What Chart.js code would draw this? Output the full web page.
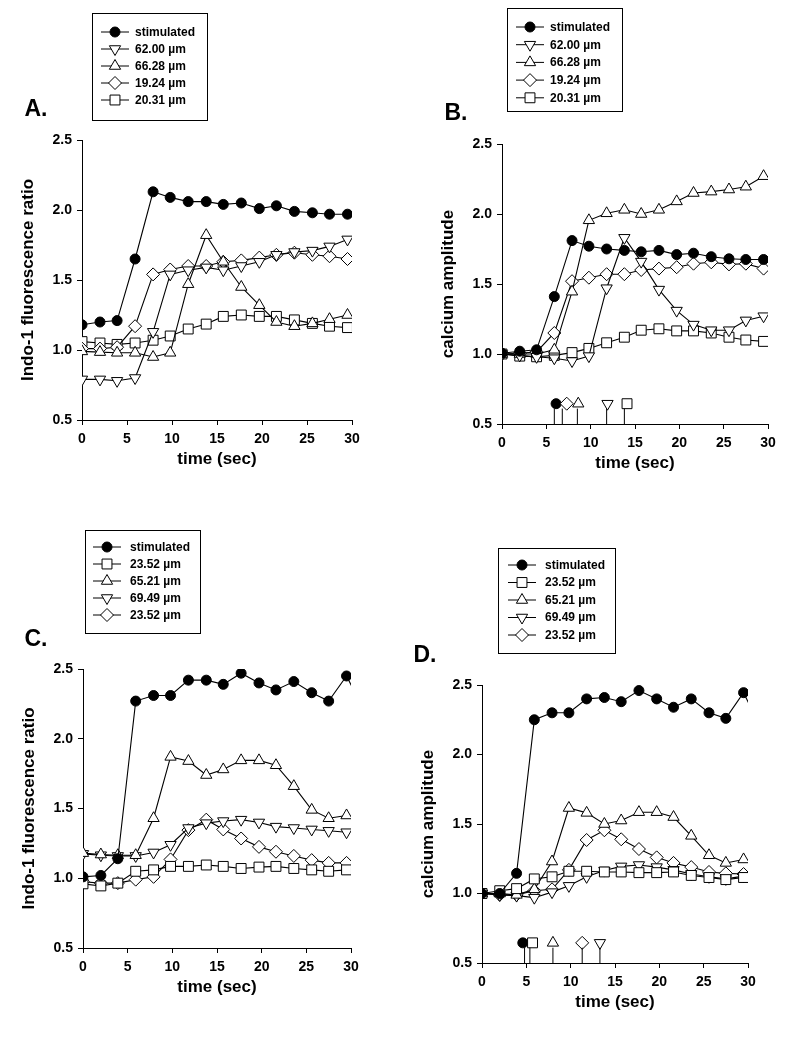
<!DOCTYPE html>
<html>
<head>
<meta charset="utf-8">
<script src="https://cdn.jsdelivr.net/npm/chart.js@4.4.0/dist/chart.umd.min.js"></script>
<style>
  html, body { margin: 0; padding: 0; background: #fff; }
  #page { position: relative; width: 800px; height: 1038px; overflow: hidden; }
  #page canvas { position: absolute; left: 0; top: 0; }
  .tag { position: absolute; font: bold 23px "Liberation Sans", Arial, sans-serif; color: #000; transform: translate(-50%, -50%); }
</style>
</head>
<body>
<div id="page">
  <canvas id="chartA" width="800" height="1038"></canvas>
  <canvas id="chartB" width="800" height="1038"></canvas>
  <canvas id="chartC" width="800" height="1038"></canvas>
  <canvas id="chartD" width="800" height="1038"></canvas>
  <div class="tag" style="left:36px;top:108px">A.</div>
  <div class="tag" style="left:456px;top:112px">B.</div>
  <div class="tag" style="left:36px;top:638px">C.</div>
  <div class="tag" style="left:425px;top:654px">D.</div>
</div>
<script>
// sample times (sec), shared by all four panels (last one lies past the axis end)
const timeSec = [0, 2, 3.9, 5.9, 7.9, 9.8, 11.8, 13.8, 15.7, 17.7, 19.7, 21.6, 23.6, 25.6, 27.5, 29.5, 31.5];
const xTicks = [0, 5, 10, 15, 20, 25, 30];
const yTicks = [0.5, 1.0, 1.5, 2.0, 2.5];

// top row (A, B) legend labels
const labelsAB = ["stimulated", "62.00 \u00b5m", "66.28 \u00b5m", "19.24 \u00b5m", "20.31 \u00b5m"];
// bottom row (C, D) legend labels
const labelsCD = ["stimulated", "23.52 \u00b5m", "65.21 \u00b5m", "69.49 \u00b5m", "23.52 \u00b5m"];

// A. Indo-1 fluorescence ratio
const aStim  = [1.18, 1.20, 1.21, 1.65, 2.13, 2.09, 2.06, 2.06, 2.04, 2.05, 2.01, 2.03, 1.99, 1.98, 1.97, 1.97];
const a6200  = [0.79, 0.79, 0.78, 0.80, 1.13, 1.54, 1.57, 1.59, 1.57, 1.60, 1.63, 1.68, 1.70, 1.71, 1.74, 1.79];
const a6628  = [0.99, 0.985, 0.98, 0.98, 0.95, 0.98, 1.47, 1.82, 1.63, 1.45, 1.32, 1.20, 1.17, 1.19, 1.22, 1.25];
const a1924  = [1.01, 1.01, 1.02, 1.17, 1.54, 1.575, 1.60, 1.60, 1.63, 1.64, 1.66, 1.68, 1.695, 1.68, 1.67, 1.65];
const a2031  = [1.06, 1.05, 1.04, 1.05, 1.07, 1.10, 1.15, 1.185, 1.24, 1.25, 1.24, 1.24, 1.215, 1.19, 1.17, 1.16];

// B. calcium amplitude
const bStim  = [1.005, 1.02, 1.03, 1.41, 1.81, 1.77, 1.75, 1.74, 1.73, 1.74, 1.71, 1.72, 1.695, 1.68, 1.675, 1.675];
const b6200  = [1.0, 0.99, 0.98, 0.97, 0.95, 0.985, 1.47, 1.83, 1.66, 1.46, 1.31, 1.21, 1.17, 1.17, 1.24, 1.27];
const b6628  = [1.0, 1.0, 1.0, 1.03, 1.445, 1.955, 2.005, 2.03, 2.0, 2.03, 2.09, 2.15, 2.16, 2.175, 2.195, 2.27];
const b1924  = [1.0, 1.005, 1.015, 1.15, 1.52, 1.545, 1.57, 1.57, 1.60, 1.61, 1.62, 1.645, 1.655, 1.64, 1.645, 1.61];
const b2031  = [1.0, 0.985, 0.98, 0.99, 1.01, 1.04, 1.08, 1.12, 1.17, 1.18, 1.165, 1.165, 1.15, 1.12, 1.10, 1.09];
// onset marks under B: which series, tick time, symbol time, symbol level
const onsetSeriesB = [0, 3, 2, 1, 4];
const onsetLineB   = [5.9, 6.8, 8.5, 11.8, 13.8];
const onsetMarkB   = [6.1, 7.3, 8.6, 11.9, 14.1];
const onsetLevelB  = 0.645;

// C. Indo-1 fluorescence ratio
const cStim  = [1.01, 1.02, 1.14, 2.27, 2.31, 2.31, 2.42, 2.42, 2.39, 2.47, 2.40, 2.35, 2.41, 2.33, 2.27, 2.45, 2.2];
const c2352a = [0.96, 0.945, 0.965, 1.05, 1.06, 1.085, 1.085, 1.095, 1.085, 1.07, 1.08, 1.085, 1.07, 1.06, 1.05, 1.06];
const c6521  = [1.18, 1.17, 1.165, 1.165, 1.43, 1.87, 1.84, 1.74, 1.78, 1.845, 1.845, 1.81, 1.66, 1.49, 1.43, 1.45];
const c6949  = [1.175, 1.165, 1.16, 1.16, 1.185, 1.24, 1.36, 1.395, 1.41, 1.42, 1.40, 1.37, 1.36, 1.35, 1.34, 1.33];
const c2352b = [0.975, 0.965, 0.965, 0.99, 1.01, 1.135, 1.345, 1.42, 1.35, 1.285, 1.225, 1.19, 1.16, 1.13, 1.11, 1.11];

// D. calcium amplitude
const dStim  = [1.0, 1.0, 1.145, 2.25, 2.30, 2.30, 2.40, 2.41, 2.38, 2.46, 2.40, 2.34, 2.40, 2.30, 2.26, 2.445, 2.18];
const d2352a = [1.0, 1.02, 1.035, 1.105, 1.12, 1.16, 1.16, 1.155, 1.155, 1.15, 1.15, 1.155, 1.13, 1.115, 1.10, 1.115];
const d6521  = [1.0, 1.0, 0.99, 1.03, 1.23, 1.615, 1.58, 1.50, 1.525, 1.585, 1.585, 1.55, 1.415, 1.275, 1.22, 1.245];
const d6949  = [1.0, 0.99, 0.985, 0.97, 1.01, 1.055, 1.12, 1.165, 1.195, 1.205, 1.19, 1.17, 1.14, 1.12, 1.105, 1.125];
const d2352b = [1.0, 0.99, 0.99, 1.02, 1.03, 1.17, 1.385, 1.455, 1.39, 1.32, 1.26, 1.22, 1.19, 1.155, 1.145, 1.14];
const onsetSeriesD = [0, 1, 2, 4, 3];
const onsetLineD   = [4.8, 5.4, 8.0, 11.3, 13.3];
const onsetMarkD   = [4.6, 5.7, 8.0, 11.3, 13.3];
const onsetLevelD  = 0.645;

Chart.defaults.font.family = '"Liberation Sans", Arial, Helvetica, sans-serif';
Chart.defaults.color = "#000";

const markerStyles = {
    dot:     { pointStyle: "circle",   pointRadius: 5,   pointRotation: 0,   pointBackgroundColor: "#000" },
    down:    { pointStyle: "triangle", pointRadius: 6.5, pointRotation: 180, pointBackgroundColor: "#fff" },
    up:      { pointStyle: "triangle", pointRadius: 6.5, pointRotation: 0,   pointBackgroundColor: "#fff" },
    diamond: { pointStyle: "rectRot",  pointRadius: 6.5, pointRotation: 0,   pointBackgroundColor: "#fff" },
    square:  { pointStyle: "rect",     pointRadius: 7,   pointRotation: 0,   pointBackgroundColor: "#fff" }
};
const kindsAB = ["dot", "down", "up", "diamond", "square"];
const kindsCD = ["dot", "square", "up", "down", "diamond"];

const Y_W = 64;   // y axis box width
const X_H = 50;   // x axis box height

// draws the boxed legend above each plot
const boxLegend = {
    id: "boxLegend",
    afterDraw(chart, args, o) {
        const ctx = chart.ctx;
        ctx.save();
        ctx.lineWidth = 1;
        ctx.strokeStyle = "#000";
        ctx.strokeRect(o.left + 0.5, o.top + 0.5, o.width, o.height);
        ctx.font = 'bold 12px "Liberation Sans", Arial, sans-serif';
        ctx.textBaseline = "middle";
        let row = 0;
        chart.data.datasets.forEach(ds => {
            if (ds.inLegend === false) return;
            const y = o.firstRow + row * o.rowGap;
            ctx.strokeStyle = "#000";
            ctx.beginPath();
            ctx.moveTo(o.markX - 14, y);
            ctx.lineTo(o.markX + 14, y);
            ctx.stroke();
            ctx.fillStyle = ds.pointBackgroundColor;
            Chart.helpers.drawPoint(ctx, {
                pointStyle: ds.pointStyle, radius: ds.pointRadius,
                rotation: ds.pointRotation, borderWidth: 1
            }, o.markX, y);
            ctx.fillStyle = "#000";
            ctx.fillText(ds.label, o.textX, y + 0.5);
            row++;
        });
        ctx.restore();
    }
};

function makePanel(id, p) {
    const datasets = p.series.map((vals, i) => Object.assign({
        label: p.labels[i],
        data: vals.map((v, k) => ({ x: timeSec[k], y: v })),
        borderColor: "#000",
        borderWidth: 1.1,
        pointBorderColor: "#000",
        pointBorderWidth: 1,
        tension: 0
    }, markerStyles[p.kinds[i]]));

    if (p.onset) {
        // little vertical ticks marking onset times
        const ticks = [];
        p.onset.lines.forEach(t => {
            ticks.push({ x: t, y: 0.5 }, { x: t, y: p.onset.level - 0.035 }, { x: t, y: null });
        });
        datasets.push({
            label: "onset ticks", inLegend: false,
            data: ticks, borderColor: "#000", borderWidth: 1, pointRadius: 0, spanGaps: false
        });
        const kinds = p.onset.series.map(s => markerStyles[p.kinds[s]]);
        datasets.push({
            label: "onset marks", inLegend: false, showLine: false,
            data: p.onset.marks.map(t => ({ x: t, y: p.onset.level })),
            pointStyle: kinds.map(k => k.pointStyle),
            pointRadius: kinds.map(k => k.pointRadius),
            pointRotation: kinds.map(k => k.pointRotation),
            pointBackgroundColor: kinds.map(k => k.pointBackgroundColor),
            pointBorderColor: "#000", pointBorderWidth: 1
        });
    }

    const tickFont = { size: 14, weight: "bold" };
    const titleFont = { size: 17, weight: "bold" };

    new Chart(document.getElementById(id), {
        type: "line",
        data: { datasets: datasets },
        plugins: [boxLegend],
        options: {
            responsive: false,
            animation: false,
            devicePixelRatio: 1,
            layout: {
                padding: {
                    left: p.plot.left - Y_W,
                    top: p.plot.top,
                    right: 800 - p.plot.right,
                    bottom: 1038 - p.plot.bottom - X_H
                }
            },
            scales: {
                x: {
                    type: "linear", min: 0, max: 30,
                    afterFit: s => { s.height = X_H; },
                    afterBuildTicks: s => { s.ticks = xTicks.map(v => ({ value: v })); },
                    ticks: { font: tickFont, padding: 6, maxRotation: 0 },
                    grid: { display: true, drawOnChartArea: false, drawTicks: true, tickLength: 5, color: "#000" },
                    border: { display: true, color: "#000", width: 1 },
                    title: { display: true, text: "time (sec)", font: titleFont, color: "#000", padding: 0 }
                },
                y: {
                    min: 0.5, max: 2.5,
                    afterFit: s => { s.width = Y_W; },
                    afterBuildTicks: s => { s.ticks = yTicks.map(v => ({ value: v })); },
                    ticks: { font: tickFont, padding: 5, callback: v => Number(v).toFixed(1) },
                    grid: { display: true, drawOnChartArea: false, drawTicks: true, tickLength: 5, color: "#000" },
                    border: { display: true, color: "#000", width: 1 },
                    title: { display: true, text: p.yTitle, font: titleFont, color: "#000", padding: 0 }
                }
            },
            plugins: {
                legend: { display: false },
                tooltip: { enabled: false },
                boxLegend: p.legend
            }
        }
    });
}

makePanel("chartA", {
    labels: labelsAB, kinds: kindsAB,
    series: [aStim, a6200, a6628, a1924, a2031],
    yTitle: "Indo-1 fluorescence ratio",
    plot: { left: 82, right: 352, top: 140, bottom: 420 },
    legend: { left: 92, top: 13, width: 115, height: 107, firstRow: 32, rowGap: 17, markX: 115, textX: 135 }
});

makePanel("chartB", {
    labels: labelsAB, kinds: kindsAB,
    series: [bStim, b6200, b6628, b1924, b2031],
    yTitle: "calcium amplitude",
    plot: { left: 502, right: 768, top: 144, bottom: 424 },
    legend: { left: 507, top: 8, width: 115, height: 103, firstRow: 27, rowGap: 17.7, markX: 530, textX: 550 },
    onset: { series: onsetSeriesB, lines: onsetLineB, marks: onsetMarkB, level: onsetLevelB }
});

makePanel("chartC", {
    labels: labelsCD, kinds: kindsCD,
    series: [cStim, c2352a, c6521, c6949, c2352b],
    yTitle: "Indo-1 fluorescence ratio",
    plot: { left: 83, right: 351, top: 669, bottom: 948 },
    legend: { left: 85, top: 530, width: 115, height: 103, firstRow: 547, rowGap: 17, markX: 107, textX: 130 }
});

makePanel("chartD", {
    labels: labelsCD, kinds: kindsCD,
    series: [dStim, d2352a, d6521, d6949, d2352b],
    yTitle: "calcium amplitude",
    plot: { left: 482, right: 748, top: 685, bottom: 963 },
    legend: { left: 498, top: 548, width: 117, height: 105, firstRow: 565, rowGap: 17.5, markX: 522, textX: 545 },
    onset: { series: onsetSeriesD, lines: onsetLineD, marks: onsetMarkD, level: onsetLevelD }
});
</script>
</body>
</html>
